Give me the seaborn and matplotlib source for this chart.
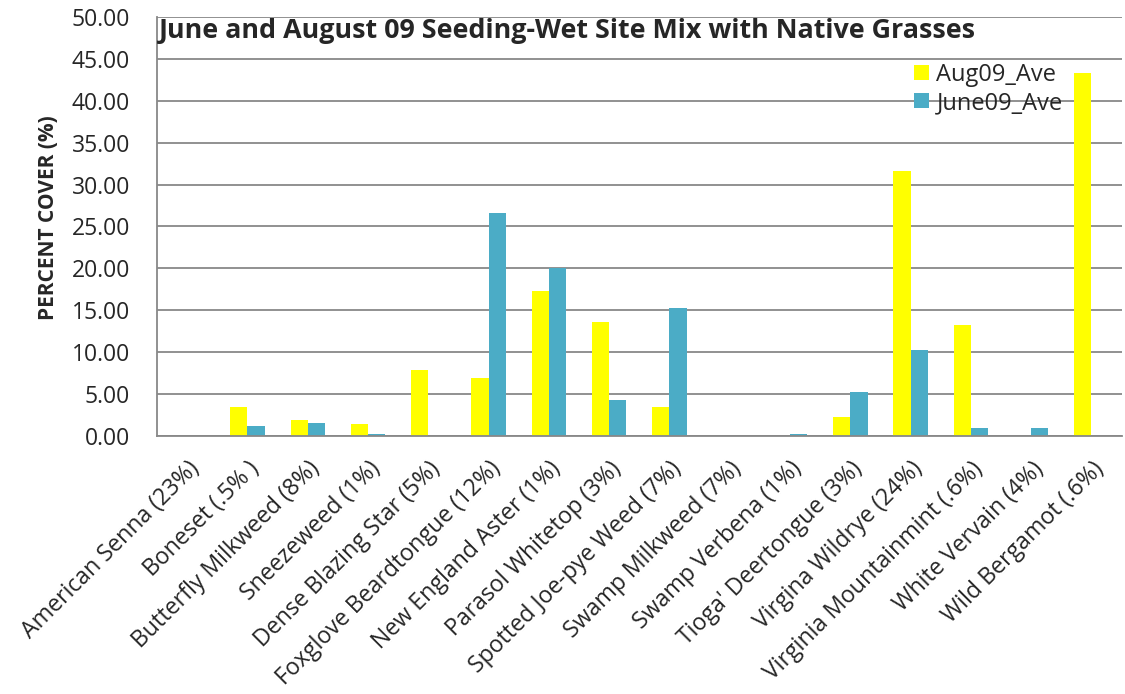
import pandas as pd
import matplotlib.pyplot as plt
import seaborn as sns
from matplotlib.ticker import FormatStrFormatter, FixedLocator

# data
species = ['American Senna (23%)', 'Boneset (.5% )', 'Butterfly Milkweed (8%)',
           'Sneezeweed (1%)', 'Dense Blazing Star (5%)', 'Foxglove Beardtongue (12%)',
           'New England Aster (1%)', 'Parasol Whitetop (3%)', 'Spotted Joe-pye Weed (7%)',
           'Swamp Milkweed (7%)', 'Swamp Verbena (1%)', "Tioga' Deertongue (3%)",
           'Virgina Wildrye (24%)', 'Virginia Mountainmint (.6%)', 'White Vervain (4%)',
           'Wild Bergamot (.6%)']
aug09_ave = [0, 3.43, 1.9, 1.43, 7.93, 6.93, 17.25, 13.6, 3.43, 0, 0, 2.23,
             31.6, 13.27, 0, 43.35]
june09_ave = [0, 1.23, 1.55, 0.24, 0, 26.65, 20.0, 4.26, 15.26, 0, 0.24, 5.26,
              10.28, 0.92, 0.92, 0]
series = ['Aug09_Ave', 'June09_Ave']
colors = ['#FFFF00', '#4BACC6']

df = pd.DataFrame({'Species': species, 'Aug09_Ave': aug09_ave, 'June09_Ave': june09_ave})
df_long = df.melt(id_vars='Species', var_name='Series', value_name='Cover')

sns.set_style("white")
plt.rcParams['font.family'] = ['Open Sans', 'DejaVu Sans']

fig = plt.figure(figsize=(11.25, 6.94), dpi=100)
ax = fig.add_axes([0.1396, 0.3718, 0.8574, 0.6037])

sns.barplot(data=df_long, x='Species', y='Cover', hue='Series', hue_order=series,
            palette=colors, width=0.57, gap=0, saturation=1, ax=ax, edgecolor='none')

ax.set_ylim(0, 50)
ax.set_xlim(-0.5, len(species) - 0.5)
ax.set_yticks([i * 5 for i in range(11)])
ax.yaxis.set_major_formatter(FormatStrFormatter('%.2f'))
ax.grid(True, axis='y', color='#888888', linewidth=1.3)
ax.set_axisbelow(True)

for s in ['top', 'right']:
    ax.spines[s].set_visible(False)
for s in ['left', 'bottom']:
    ax.spines[s].set_color('#888888')
    ax.spines[s].set_linewidth(1.3)

# tick marks at category boundaries, labels at centres
ax.xaxis.set_minor_locator(FixedLocator([i - 0.5 for i in range(len(species) + 1)]))
ax.tick_params(axis='x', which='major', length=0, pad=15)
ax.tick_params(axis='x', which='minor', length=6, color='#888888', width=1.3, direction='out')
ax.tick_params(axis='y', length=6.5, color='#888888', width=1.3, direction='out',
               labelsize=16.5, pad=13)
ax.set_xticks(range(len(species)))
ax.set_xticklabels(species, rotation=45, ha='right', rotation_mode='anchor', fontsize=16.7)

ax.set_xlabel('')
ax.set_ylabel('PERCENT COVER (%)', fontsize=15, fontweight='bold')
ax.yaxis.set_label_coords(-0.102, 0.52)

ax.text(0.002, 0.950, 'June and August 09 Seeding-Wet Site Mix with Native Grasses',
        transform=ax.transAxes, fontsize=19.4, fontweight='bold', va='baseline', ha='left')

ax.legend(title=None, frameon=False, loc='upper left', bbox_to_anchor=(0.785, 0.891),
          fontsize=17, handlelength=0.64, handleheight=0.64, handletextpad=0.3,
          labelspacing=0.18, borderaxespad=0, borderpad=0)

plt.savefig('out.png', dpi=100)
